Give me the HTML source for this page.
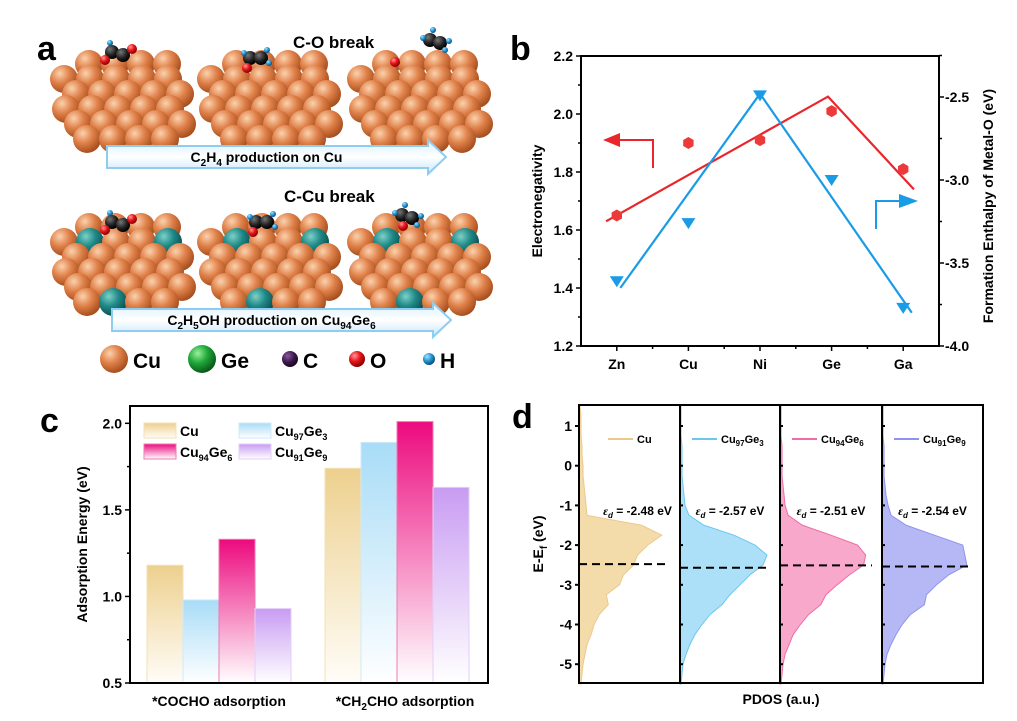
<!DOCTYPE html>
<html><head><meta charset="utf-8"><style>
body{margin:0;background:#fff;font-family:"Liberation Sans",sans-serif}
svg{display:block}
text{font-family:"Liberation Sans",sans-serif;font-weight:bold}
</style></head><body>
<svg id="fig" width="1017" height="721" viewBox="0 0 1017 721" xmlns="http://www.w3.org/2000/svg">
<defs>
<radialGradient id="cuBall" cx="35%" cy="30%" r="70%"><stop offset="0" stop-color="#fbd2ad"/><stop offset="0.5" stop-color="#e0814a"/><stop offset="1" stop-color="#a8501f"/></radialGradient>
<radialGradient id="geBall" cx="35%" cy="30%" r="70%"><stop offset="0" stop-color="#7fd0c8"/><stop offset="0.5" stop-color="#1f8a88"/><stop offset="1" stop-color="#0d5050"/></radialGradient>
<radialGradient id="greenBall" cx="35%" cy="30%" r="70%"><stop offset="0" stop-color="#9cf09c"/><stop offset="0.5" stop-color="#1fa83a"/><stop offset="1" stop-color="#0b5a18"/></radialGradient>
<radialGradient id="cBall" cx="35%" cy="30%" r="70%"><stop offset="0" stop-color="#777"/><stop offset="0.6" stop-color="#222"/><stop offset="1" stop-color="#000"/></radialGradient>
<radialGradient id="cLeg" cx="35%" cy="30%" r="70%"><stop offset="0" stop-color="#8a5aa0"/><stop offset="0.6" stop-color="#3a1848"/><stop offset="1" stop-color="#1a0822"/></radialGradient>
<radialGradient id="oBall" cx="35%" cy="30%" r="70%"><stop offset="0" stop-color="#ff9a9a"/><stop offset="0.5" stop-color="#e8161b"/><stop offset="1" stop-color="#8a0000"/></radialGradient>
<radialGradient id="hBall" cx="35%" cy="30%" r="70%"><stop offset="0" stop-color="#a8e4ff"/><stop offset="0.5" stop-color="#2a9ad8"/><stop offset="1" stop-color="#0b4f80"/></radialGradient>
<linearGradient id="arrowGrad" x1="0" y1="0" x2="0" y2="1"><stop offset="0" stop-color="#d8f0ff"/><stop offset="0.5" stop-color="#ffffff"/><stop offset="1" stop-color="#c6e6fb"/></linearGradient>
<linearGradient id="gCu" x1="0" y1="0" x2="0" y2="1"><stop offset="0" stop-color="#edd08e"/><stop offset="1" stop-color="#fffdf8"/></linearGradient>
<linearGradient id="gCu97" x1="0" y1="0" x2="0" y2="1"><stop offset="0" stop-color="#a8dcf7"/><stop offset="1" stop-color="#ffffff"/></linearGradient>
<linearGradient id="gCu94" x1="0" y1="0" x2="0" y2="1"><stop offset="0" stop-color="#ec0a7e"/><stop offset="1" stop-color="#ffffff"/></linearGradient>
<linearGradient id="gCu91" x1="0" y1="0" x2="0" y2="1"><stop offset="0" stop-color="#c89cf2"/><stop offset="1" stop-color="#ffffff"/></linearGradient>
</defs>
<g id="panelA"></g>
<g id="panelB"></g>
<g id="panelC"></g>
<g id="panelD"></g>
</svg>
<script>
// ---------- Panel B data ----------
const bCategories = ["Zn","Cu","Ni","Ge","Ga"];
const bElectroneg = [1.65,1.90,1.91,2.01,1.81];
const bEnthalpy = [-3.61,-3.26,-2.49,-3.00,-3.77];
const bLeftTicks = [1.2,1.4,1.6,1.8,2.0,2.2];
const bRightTicks = [-4.0,-3.5,-3.0,-2.5];
const bRedLineX = [-0.15,2.95,4.15];
const bRedLineY = [1.63,2.06,1.74];
const bBlueLineX = [0.05,2.0,4.12];
const bBlueLineY = [-3.65,-2.48,-3.80];
// ---------- Panel C data ----------
const cGroups = ["*COCHO adsorption","*CH2CHO adsorption"];
const cSeriesNames = ["Cu","Cu97Ge3","Cu94Ge6","Cu91Ge9"];
const cCu = [1.18,1.74];
const cCu97 = [0.98,1.89];
const cCu94 = [1.33,2.01];
const cCu91 = [0.93,1.63];
const cTicks = [0.5,1.0,1.5,2.0];
// ---------- Panel D data ----------
const dEnergy = [1.5,1.25,1,0.75,0.5,0.25,0,-0.25,-0.5,-0.75,-1,-1.25,-1.5,-1.75,-2,-2.25,-2.5,-2.75,-3,-3.25,-3.5,-3.75,-4,-4.25,-4.5,-4.75,-5,-5.25,-5.5];
const dCu   = [1,2,2,2,3,3,4,4,5,6,7,8,62,82,68,58,54,44,40,27,29,20,15,12,8,6,4,3,2];
const dCu97 = [1,1,1,1,2,2,2,2,3,4,5,9,24,54,75,87,83,70,60,50,42,30,22,15,10,6,3,2,1];
const dCu94 = [1,1,1,1,2,2,2,2,3,4,5,8,22,50,76,84,82,68,56,45,40,28,20,13,9,5,3,2,1];
const dCu91 = [1,1,1,1,2,2,2,2,3,4,6,9,24,52,80,82,84,66,54,44,42,28,20,14,9,5,3,2,1];
const dCenters = [-2.48,-2.57,-2.51,-2.54];
const dTicks = [1,0,-1,-2,-3,-4,-5];

const NS="http://www.w3.org/2000/svg";
function mk(tag,attrs,parent,txt){const e=document.createElementNS(NS,tag);for(const k in attrs)e.setAttribute(k,attrs[k]);if(txt!==undefined)e.textContent=txt;parent.appendChild(e);return e;}

// ================= Panel A =================
const A=document.getElementById('panelA');
let t=mk('text',{x:37,y:60,'font-size':34},A,'a');


function cluster(cx,top,withGe){
  const g=mk('g',{},A);
  
  
  const counts=[4,5,5,5,5,4];
  const shifts=[6,-6,6,-4,8,4];
  counts.forEach((n,r)=>{
    for(let c=0;c<n;c++){
      const x=cx-(n-1)*13+c*26+shifts[r];
      const y=top+14+r*15;
      let fill='url(#cuBall)';
      if(withGe && ((r===1&&(c===1||c===4))||(r===5&&c===1))) fill='url(#geBall)';
      mk('circle',{cx:x,cy:y,r:14,fill:fill},g);
    }
  });
}
function molecule(x,y,kind){
  const g=mk('g',{},A);
  
  
  if(kind===0){mk('circle',{cx:x,cy:y,r:7,fill:'url(#cBall)'},g);mk('circle',{cx:x+11,cy:y+3,r:7,fill:'url(#cBall)'},g);mk('circle',{cx:x-7,cy:y+8,r:5,fill:'url(#oBall)'},g);mk('circle',{cx:x+20,cy:y-3,r:5,fill:'url(#oBall)'},g);mk('circle',{cx:x-2,cy:y-9,r:3,fill:'url(#hBall)'},g);}
  else if(kind===1){mk('circle',{cx:x,cy:y,r:7,fill:'url(#cBall)'},g);mk('circle',{cx:x+11,cy:y,r:7,fill:'url(#cBall)'},g);mk('circle',{cx:x-3,cy:y+10,r:5,fill:'url(#oBall)'},g);mk('circle',{cx:x+19,cy:y+5,r:3,fill:'url(#hBall)'},g);mk('circle',{cx:x-6,cy:y-5,r:3,fill:'url(#hBall)'},g);mk('circle',{cx:x+17,cy:y-8,r:3,fill:'url(#hBall)'},g);}
  else {mk('circle',{cx:x,cy:y,r:7,fill:'url(#cBall)'},g);mk('circle',{cx:x+10,cy:y+3,r:7,fill:'url(#cBall)'},g);mk('circle',{cx:x-7,cy:y-2,r:3,fill:'url(#hBall)'},g);mk('circle',{cx:x+19,cy:y+1,r:3,fill:'url(#hBall)'},g);mk('circle',{cx:x+3,cy:y-10,r:3,fill:'url(#hBall)'},g);mk('circle',{cx:x+15,cy:y+10,r:3,fill:'url(#hBall)'},g);}
}
[[122,50],[269,50],[419,50]].forEach(p=>cluster(p[0],p[1],false));
[[122,213],[269,213],[419,213]].forEach(p=>cluster(p[0],p[1],true));
molecule(112,52,0);molecule(250,58,1);molecule(430,40,2);
mk('circle',{cx:395,cy:62,r:5,fill:'url(#oBall)'},A);
molecule(112,222,0);molecule(256,222,1);molecule(402,215,2);
mk('circle',{cx:403,cy:226,r:5,fill:'url(#oBall)'},A);
function bigArrow(x1,x2,y,label,name){
  const g=mk('g',{},A);
  
  
  mk('path',{d:`M${x1} ${y-11} L${x2-18} ${y-11} L${x2-18} ${y-17} L${x2} ${y} L${x2-18} ${y+17} L${x2-18} ${y+11} L${x1} ${y+11} Z`,fill:'url(#arrowGrad)',stroke:'#8fcdf0','stroke-width':2},g);
  const tx=mk('text',{x:(x1+x2)/2-10,y:y+5,'font-size':14,'text-anchor':'middle'},g);
  tx.innerHTML=label;
}
bigArrow(107,446,157,'C<tspan dy="4" font-size="10">2</tspan><tspan dy="-4">H</tspan><tspan dy="4" font-size="10">4</tspan><tspan dy="-4"> production on Cu</tspan>','c2h4-arrow');
bigArrow(112,451,320,'C<tspan dy="4" font-size="10">2</tspan><tspan dy="-4">H</tspan><tspan dy="4" font-size="10">5</tspan><tspan dy="-4">OH production on Cu</tspan><tspan dy="4" font-size="10">94</tspan><tspan dy="-4">Ge</tspan><tspan dy="4" font-size="10">6</tspan>','c2h5oh-arrow');
t=mk('text',{x:293,y:48,'font-size':17},A,'C-O break');


t=mk('text',{x:284,y:202,'font-size':17},A,'C-Cu break');


const leg=[[114,'url(#cuBall)',14,'Cu'],[202,'url(#greenBall)',14,'Ge'],[290,'url(#cLeg)',8,'C'],[357,'url(#oBall)',8,'O'],[429,'url(#hBall)',6,'H']];
leg.forEach(l=>{const g=mk('g',{},A);
  
  
  mk('circle',{cx:l[0],cy:359,r:l[2],fill:l[1]},g);mk('text',{x:l[0]+l[2]+5,y:368,'font-size':21},g,l[3]);});

// ================= Panel B =================
const B=document.getElementById('panelB');
const bx0=581,bx1=939,by0=56,by1=346;
const bxs=i=>bx0+(i+0.5)*(bx1-bx0)/5;
const byL=v=>by1-(v-1.2)/(1.0)*(by1-by0);
const byR=v=>by1-(v+4.0)/1.747*(by1-by0);
t=mk('text',{x:510,y:60,'font-size':34},B,'b');


mk('rect',{x:bx0,y:by0,width:bx1-bx0,height:by1-by0,fill:'none',stroke:'#000','stroke-width':2},B);
for(let v=1.2;v<=2.2001;v+=0.1){const y=byL(v);const major=Math.round(v*10)%2===0;mk('line',{x1:bx0,x2:bx0-(major?5:3),y1:y,y2:y,stroke:'#000','stroke-width':1.5},B);}
bLeftTicks.forEach(v=>{const e=mk('text',{x:bx0-8,y:byL(v)+5,'font-size':14,'text-anchor':'end'},B,v.toFixed(1));
  
  });
for(let v=-4.0;v<=-2.25;v+=0.25){const y=byR(v);const major=Math.abs(v*2-Math.round(v*2))<0.01;mk('line',{x1:bx1,x2:bx1+(major?5:3),y1:y,y2:y,stroke:'#000','stroke-width':1.5},B);}
bRightTicks.forEach(v=>{const e=mk('text',{x:bx1+6,y:byR(v)+5,'font-size':14},B,v.toFixed(1));
  
  });
bCategories.forEach((c,i)=>{mk('line',{x1:bxs(i),x2:bxs(i),y1:by1,y2:by1+5,stroke:'#000','stroke-width':1.5},B);
  if(i<4)mk('line',{x1:bxs(i+0.5),x2:bxs(i+0.5),y1:by1,y2:by1+3,stroke:'#000','stroke-width':1.5},B);
  const e=mk('text',{x:bxs(i),y:by1+23,'font-size':14,'text-anchor':'middle'},B,c);
  
  });
t=mk('text',{x:0,y:0,'font-size':14,'text-anchor':'middle',transform:`translate(542,${(by0+by1)/2}) rotate(-90)`},B,'Electronegativity');


t=mk('text',{x:0,y:0,'font-size':14,'text-anchor':'middle',transform:`translate(993,${(by0+by1)/2+5}) rotate(-90)`},B,'Formation Enthalpy of Metal-O (eV)');


let pts=bRedLineX.map((x,i)=>bxs(x)+','+byL(bRedLineY[i])).join(' ');
t=mk('polyline',{points:pts,fill:'none',stroke:'#e8262b','stroke-width':2.2},B);


pts=bBlueLineX.map((x,i)=>bxs(x)+','+byR(bBlueLineY[i])).join(' ');
t=mk('polyline',{points:pts,fill:'none',stroke:'#1a9be6','stroke-width':2.2},B);


bElectroneg.forEach((v,i)=>{const cx=bxs(i),cy=byL(v);let p='';for(let k=0;k<6;k++){const a=Math.PI/6+k*Math.PI/3;p+=(cx+6*Math.cos(a))+','+(cy+6*Math.sin(a))+' ';}
  const e=mk('polygon',{points:p,fill:'#ec3a3a'},B);
  
  });
bEnthalpy.forEach((v,i)=>{const cx=bxs(i),cy=byR(v);
  const e=mk('polygon',{points:`${cx-7},${cy-5} ${cx+7},${cy-5} ${cx},${cy+6}`,fill:'#1a9be6'},B);
  
  });
let g=mk('g',{},B);


mk('polyline',{points:'653,168 653,140 615,140',fill:'none',stroke:'#e8262b','stroke-width':2},g);
mk('polygon',{points:'603,140 620,133 620,147',fill:'#e8262b'},g);
g=mk('g',{},B);


mk('polyline',{points:'876,229 876,201 905,201',fill:'none',stroke:'#1a9be6','stroke-width':2},g);
mk('polygon',{points:'918,201 899,194 899,208',fill:'#1a9be6'},g);

// ================= Panel C =================
const C=document.getElementById('panelC');
const cx0=130,cx1=488,cy0=406,cy1=683;
const cy=v=>cy1-(v-0.5)/1.6*(cy1-cy0);
const cGroupCenter=[219,397];
const barW=36;
t=mk('text',{x:40,y:432,'font-size':34},C,'c');


const cSeries=[cCu,cCu97,cCu94,cCu91];
const cFill=['url(#gCu)','url(#gCu97)','url(#gCu94)','url(#gCu91)'];
const cStroke=['#f3e0b4','#cfeaf8','#f07ab0','#e3cff8'];
cSeries.forEach((s,si)=>s.forEach((v,gi)=>{
  const x=cGroupCenter[gi]+(si-2)*barW;
  const e=mk('rect',{x:x,y:cy(v),width:barW,height:cy1-cy(v),fill:cFill[si],stroke:cStroke[si],'stroke-width':1},C);
  
  
}));
t=mk('rect',{x:cx0,y:cy0,width:cx1-cx0,height:cy1-cy0,fill:'none',stroke:'#000','stroke-width':2},C);


for(let v=0.5;v<=2.0001;v+=0.25){const y=cy(v);const major=Math.abs(v*2-Math.round(v*2))<0.01;mk('line',{x1:cx0,x2:cx0-(major?5:3),y1:y,y2:y,stroke:'#000','stroke-width':1.5},C);}
cTicks.forEach(v=>{const e=mk('text',{x:cx0-8,y:cy(v)+5,'font-size':14,'text-anchor':'end'},C,v.toFixed(1));
  
  });
t=mk('text',{x:0,y:0,'font-size':14,'text-anchor':'middle',transform:`translate(87,${(cy0+cy1)/2}) rotate(-90)`},C,'Adsorption Energy (eV)');


t=mk('text',{x:cGroupCenter[0],y:706,'font-size':14,'text-anchor':'middle'},C,cGroups[0]);


t=mk('text',{x:cGroupCenter[1]+8,y:706,'font-size':14,'text-anchor':'middle'},C);
t.innerHTML='*CH<tspan dy="4" font-size="10">2</tspan><tspan dy="-4">CHO adsorption</tspan>';


const cLeg=[[144,423,'Cu'],[239,423,'Cu<tspan dy="4" font-size="9">97</tspan><tspan dy="-4">Ge</tspan><tspan dy="4" font-size="9">3</tspan>'],[144,444,'Cu<tspan dy="4" font-size="9">94</tspan><tspan dy="-4">Ge</tspan><tspan dy="4" font-size="9">6</tspan>'],[239,444,'Cu<tspan dy="4" font-size="9">91</tspan><tspan dy="-4">Ge</tspan><tspan dy="4" font-size="9">9</tspan>']];
[0,1,2,3].forEach(i=>{const gg=mk('g',{},C);
  
  
  mk('rect',{x:cLeg[i][0],y:cLeg[i][1],width:32,height:15,fill:cFill[i],stroke:cStroke[i]},gg);
  const e=mk('text',{x:cLeg[i][0]+36,y:cLeg[i][1]+13,'font-size':14},gg);e.innerHTML=cLeg[i][2];});

// ================= Panel D =================
const D=document.getElementById('panelD');
const dy0=405,dy1=683;
const dy=v=>426+(1-v)*39.7;
const dEdges=[579,680,780,882,983];
t=mk('text',{x:512,y:428,'font-size':34},D,'d');


const dSeries=[dCu,dCu97,dCu94,dCu91];
const dFill=['#f3dcaa','#ace0f8','#f8a8ca','#b6b8f6'];
const dLine=['#ecc98a','#6cc6ee','#f06ca8','#8f93ee'];
const dNames=['Cu','Cu97Ge3','Cu94Ge6','Cu91Ge9'];
const dLabels=['Cu','Cu<tspan dy="3" font-size="8">97</tspan><tspan dy="-3">Ge</tspan><tspan dy="3" font-size="8">3</tspan>','Cu<tspan dy="3" font-size="8">94</tspan><tspan dy="-3">Ge</tspan><tspan dy="3" font-size="8">6</tspan>','Cu<tspan dy="3" font-size="8">91</tspan><tspan dy="-3">Ge</tspan><tspan dy="3" font-size="8">9</tspan>'];
dSeries.forEach((s,si)=>{
  const x0=dEdges[si],w=dEdges[si+1]-dEdges[si];
  let p=`M${x0} ${dy(dEnergy[0])} `;
  s.forEach((v,i)=>{p+=`L${x0+v/100*w} ${dy(dEnergy[i])} `;});
  p+=`L${x0} ${dy(dEnergy[dEnergy.length-1])} Z`;
  const e=mk('path',{d:p,fill:dFill[si],stroke:dLine[si],'stroke-width':1},D);
  
  
  const dl=mk('line',{x1:x0,x2:x0+w-10,y1:dy(dCenters[si]),y2:dy(dCenters[si]),stroke:'#000','stroke-width':2,'stroke-dasharray':'8,5'},D);
  
  
  const lg=mk('g',{},D);
  
  
  mk('line',{x1:x0+(si===0?29:12),x2:x0+(si===0?54:37),y1:439,y2:439,stroke:dLine[si],'stroke-width':2},lg);
  const lt=mk('text',{x:x0+(si===0?58:41),y:443,'font-size':11},lg);lt.innerHTML=dLabels[si];
  const et=mk('text',{x:x0+w/2+(si===0?8:0),y:515,'font-size':12,'text-anchor':'middle'},D);
  et.innerHTML='<tspan font-style="italic" font-family="Liberation Serif">ε</tspan><tspan dy="3" font-size="8" font-style="italic">d</tspan><tspan dy="-3"> = '+dCenters[si].toFixed(2)+' eV</tspan>';
  
  
  const fr=mk('rect',{x:x0,y:dy0,width:w,height:dy1-dy0,fill:'none',stroke:'#000','stroke-width':2},D);
  
  
  dTicks.forEach(v=>{mk('line',{x1:x0,x2:si===0?x0-4:x0+3,y1:dy(v),y2:dy(v),stroke:'#000','stroke-width':2},D);});
});
dTicks.forEach(v=>{const e=mk('text',{x:572,y:dy(v)+5,'font-size':14,'text-anchor':'end'},D,String(v));
  
  });
t=mk('text',{x:0,y:0,'font-size':14,'text-anchor':'middle',transform:`translate(543,${(dy0+dy1)/2}) rotate(-90)`},D);
t.innerHTML='E-E<tspan dy="4" font-size="10">f</tspan><tspan dy="-4"> (eV)</tspan>';


t=mk('text',{x:781,y:704,'font-size':14,'text-anchor':'middle'},D,'PDOS (a.u.)');


</script>
</body></html>
